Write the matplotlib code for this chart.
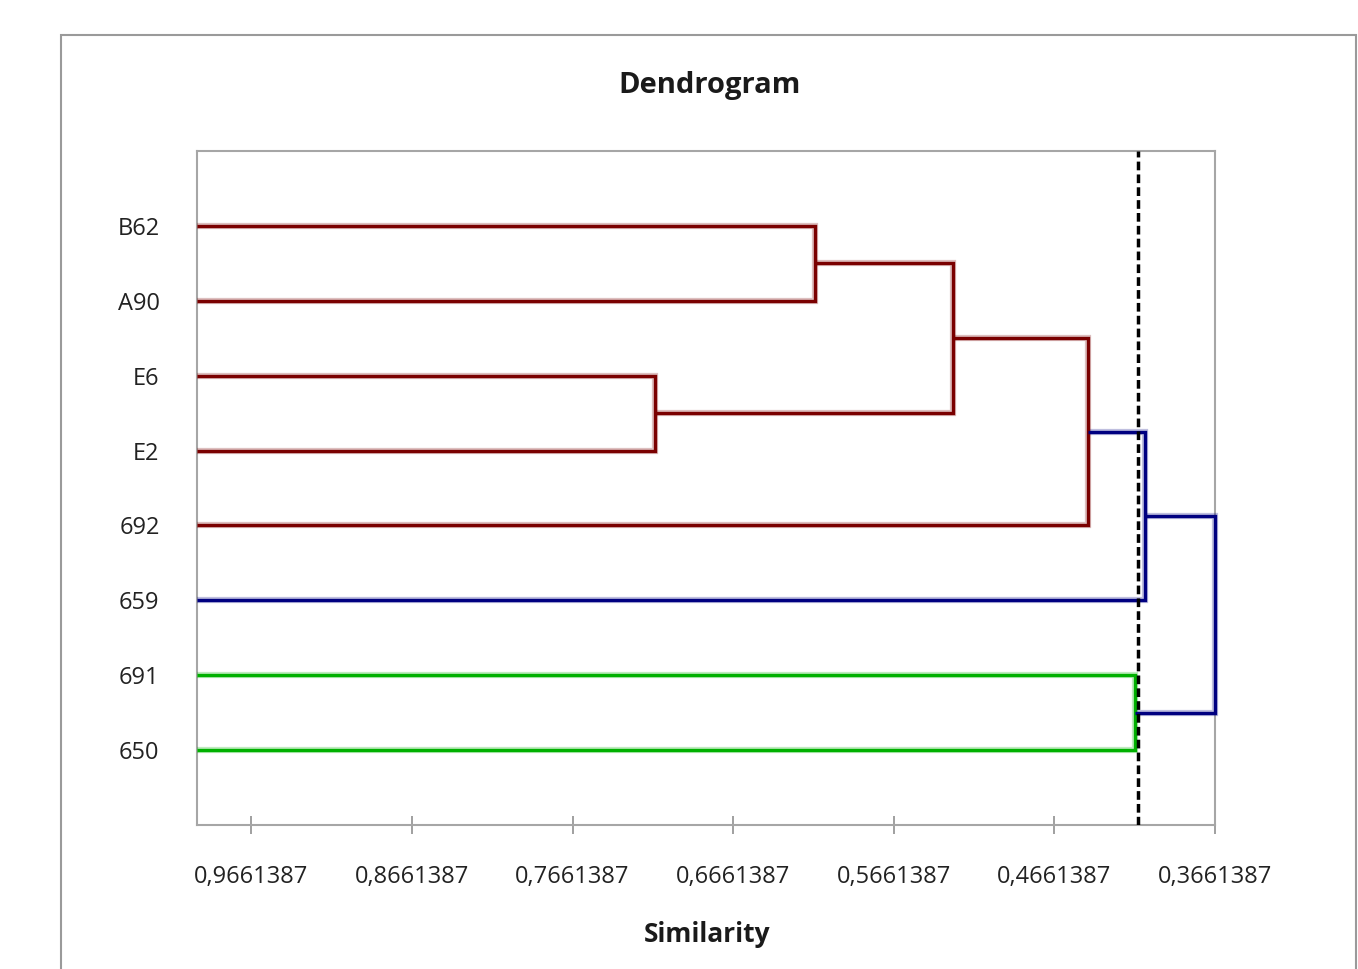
import matplotlib
matplotlib.use('Agg')
import matplotlib.pyplot as plt
from matplotlib.patches import Rectangle

plt.rcParams['font.family'] = ['Open Sans', 'DejaVu Sans']

# leaves, top to bottom
labels = ['B62', 'A90', 'E6', 'E2', '692', '659', '691', '650']
# merges: node ids 8.. are created in this order
merge_left = [0, 2, 8, 10, 11, 6, 12]
merge_right = [1, 3, 9, 4, 5, 7, 13]
merge_sim = [0.6151, 0.7147, 0.5292, 0.4452, 0.4097, 0.4159, 0.3661387]
merge_color = ['#7a0000', '#7a0000', '#7a0000', '#7a0000', '#000080', '#00b000', '#000080']
cut_level = 0.4141
tick_values = [0.9661387, 0.8661387, 0.7661387, 0.6661387, 0.5661387, 0.4661387, 0.3661387]

fig = plt.figure(figsize=(13.58, 9.69), dpi=100)
ax = fig.add_axes([0.1451, 0.1486, 0.7496, 0.6956])

# node positions: leaves sit at similarity 1 (left edge)
node_x = [1.0] * len(labels)
node_y = [i + 1 for i in range(len(labels))]
for a, b, s, c in zip(merge_left, merge_right, merge_sim, merge_color):
    xs = [node_x[a], s, s, node_x[b]]
    ys = [node_y[a], node_y[a], node_y[b], node_y[b]]
    ax.plot(xs, ys, color=c, lw=4.5, alpha=0.25, solid_capstyle='butt',
            solid_joinstyle='miter', clip_on=False, zorder=3)
    ax.plot(xs, ys, color=c, lw=2.4, solid_capstyle='butt',
            solid_joinstyle='miter', clip_on=False, zorder=4)
    node_x.append(s)
    node_y.append((node_y[a] + node_y[b]) / 2)

ax.axvline(cut_level, color='black', lw=2.5, ls=(0, (2.5, 1.2)), zorder=5)

ax.set_xlim(1.0, 0.3661387)
ax.set_ylim(9, 0)
ax.set_xticks(tick_values)
ax.set_xticklabels([f'{v:.7f}'.replace('.', ',') for v in tick_values])
ax.set_yticks(range(1, len(labels) + 1))
ax.set_yticklabels(labels)
ax.tick_params(axis='x', direction='inout', length=13, width=1.2, color='#909090',
               pad=22, labelsize=17, labelcolor='#222222')
ax.tick_params(axis='y', length=0, pad=27, labelsize=17, labelcolor='#222222')
for sp in ax.spines.values():
    sp.set_color('#a6a6a6')
    sp.set_linewidth(1.5)
    sp.set_zorder(2)

fig.text(710 / 1358, 1 - 86 / 969, 'Dendrogram', ha='center', va='center',
         fontsize=21, fontweight='bold', color='#1a1a1a')
fig.text(707 / 1358, 1 - 935 / 969, 'Similarity', ha='center', va='center',
         fontsize=19, fontweight='bold', color='#1a1a1a')

# chart-area frame
fig.patches.append(Rectangle((61 / 1358, -0.05), (1356 - 61) / 1358, 1.05 - 35 / 969,
                             transform=fig.transFigure, fill=False,
                             edgecolor='#9a9a9a', lw=1.5))

fig.savefig('out.png', dpi=100)
